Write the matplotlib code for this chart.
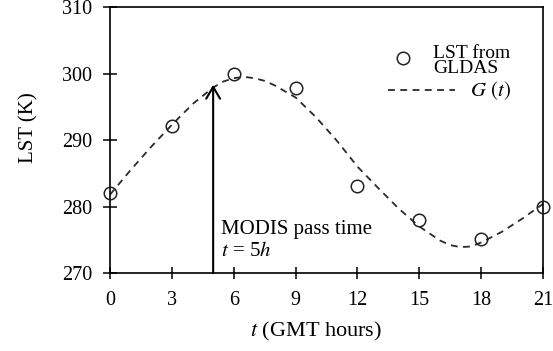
import matplotlib
matplotlib.use("Agg")
import matplotlib.pyplot as plt

plt.rcParams["font.family"] = ["Liberation Serif", "DejaVu Serif"]
plt.rcParams["mathtext.fontset"] = "stix"

# GLDAS land surface temperature samples (3-hourly)
HOURS = [0, 3, 6, 9, 12, 15, 18, 21]
LST = [282.1, 292.1, 300.0, 297.9, 283.1, 278.0, 275.1, 280.0]

# fitted diurnal model G(t)
CURVE_T = [0, 1, 2, 3, 4, 5, 5.5, 6, 6.5, 7, 7.5, 8, 9, 10, 11, 12, 13, 14,
           15, 16, 16.5, 17, 17.5, 18, 19, 20, 21]
CURVE_G = [281.8, 285.5, 289.0, 292.3, 295.4, 297.9, 298.8, 299.3, 299.5,
           299.3, 298.9, 298.2, 296.4, 293.4, 289.9, 286.0, 282.8, 279.7,
           277.0, 274.9, 274.2, 273.9, 274.0, 274.6, 276.2, 278.2, 280.4]

PASS_TIME = 5
X_TICKS = [0, 3, 6, 9, 12, 15, 18, 21]
Y_TICKS = [270, 280, 290, 300, 310]

fig = plt.figure(figsize=(5.53, 3.51), dpi=100)
ax = fig.add_axes([0.199, 0.222, 0.783, 0.758])

ax.plot(CURVE_T, CURVE_G, color="#2a2a2a", linestyle=(0, (3.8, 3)), linewidth=1.3)
ax.plot(HOURS, LST, linestyle="none", marker="o", markersize=9,
        markerfacecolor="none", markeredgecolor="#222222", markeredgewidth=1.1,
        clip_on=False, zorder=3)

# MODIS overpass arrow
ax.annotate("", xy=(PASS_TIME, 298.3), xytext=(PASS_TIME, 270),
            arrowprops=dict(arrowstyle="->,head_length=8.5,head_width=5",
                            mutation_scale=1, lw=1.5, color="black",
                            shrinkA=0, shrinkB=0))
ax.text(5.4, 276.5, "MODIS pass time", fontsize=15, va="center", ha="left")
ax.text(5.4, 273.2, "$t$ = 5$h$", fontsize=15, va="center", ha="left")

# hand-made legend
ax.plot([0.677], [0.808], transform=ax.transAxes, marker="o", markersize=9,
        markerfacecolor="none", markeredgecolor="#222222", markeredgewidth=1.1)
ax.text(0.746, 0.797, "LST from\nGLDAS", transform=ax.transAxes, fontsize=14,
        va="center", ha="left", linespacing=0.88)
ax.plot([0.642, 0.797], [0.688, 0.688], transform=ax.transAxes,
        color="#2a2a2a", linestyle=(0, (3.8, 3)), linewidth=1.3)
ax.text(0.831, 0.684, "$G$ $(t)$", transform=ax.transAxes, fontsize=15,
        va="center", ha="left")

ax.set_xlim(0, 21)
ax.set_ylim(270, 310)
ax.set_xticks(X_TICKS)
ax.set_yticks(Y_TICKS)
ax.tick_params(axis="x", direction="inout", length=8, width=1.1, pad=9, labelsize=14.5)
ax.tick_params(axis="y", direction="inout", length=10, width=1.1, pad=8, labelsize=14.5)
for spine in ax.spines.values():
    spine.set_linewidth(1.2)

ax.set_xlabel("$t$ (GMT hours)", fontsize=16)
ax.set_ylabel("LST (K)", fontsize=15)
ax.xaxis.set_label_coords(0.476, -0.177)
ax.yaxis.set_label_coords(-0.165, 0.545)

fig.savefig("out.png", dpi=100)
